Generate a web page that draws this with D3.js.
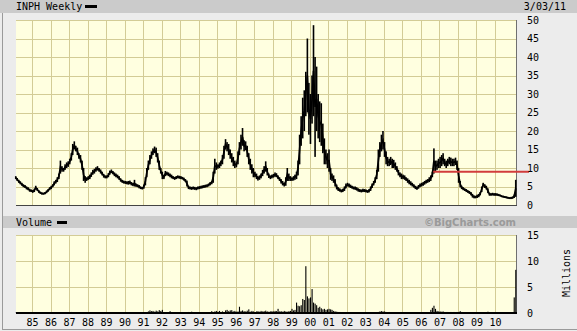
<!DOCTYPE html>
<html><head><meta charset="utf-8">
<script src="https://cdn.jsdelivr.net/npm/d3@7"></script>
<style>
html,body{margin:0;padding:0;background:#ececec;}
svg{display:block;}
text{font-family:"DejaVu Sans Mono",monospace;font-size:10px;fill:#000;}
</style></head>
<body>
<svg id="c" width="577" height="331"></svg>
<script>
// ---- DATA (monthly, starting Feb 1984, ending Feb 2011) ----
const symbol = "INPH Weekly";
const dateLabel = "3/03/11";
const priceHigh = [
 7.8,7.3,6.8,6.4,6.0,5.6,5.4,5.0,4.8,4.4,4.2,                 // 1984
 4.0,4.4,5.2,4.6,4.0,3.6,3.4,3.3,3.5,3.9,4.3,4.8,            // 1985
 5.2,5.6,6.4,6.8,7.5,8.5,12.0,10.5,10.0,11.0,11.5,11.8,      // 1986
 12.5,14.0,16.5,17.2,16.0,15.5,14.0,13.5,12.0,10.0,7.8,7.5,  // 1987
 7.8,8.2,8.8,9.5,9.8,10.2,10.5,10.0,9.6,9.0,8.4,8.0,         // 1988
 8.0,8.6,9.3,9.6,9.2,8.8,8.5,8.2,7.8,7.2,6.8,6.6,            // 1989
 6.5,6.4,6.5,6.6,6.2,6.0,6.8,5.8,5.6,5.4,5.0,4.8,            // 1990
 5.5,7.5,10.0,12.0,13.5,14.5,15.3,15.8,15.5,14.0,12.0,10.0,  // 1991
 9.0,8.2,9.2,9.0,8.8,8.5,8.2,7.8,7.6,7.8,8.0,7.9,            // 1992
 7.8,7.6,7.4,7.0,6.6,5.2,5.0,4.9,5.0,4.9,4.8,5.0,            // 1993
 5.1,5.2,5.3,5.4,5.5,5.6,5.8,6.2,6.5,9.0,12.5,11.5,          // 1994
 11.0,11.5,12.0,13.5,16.0,17.8,17.0,16.5,15.0,14.0,13.0,12.0,// 1995
 11.5,14.5,17.0,19.0,20.8,17.5,17.2,16.0,14.0,12.5,11.0,10.0,// 1996
 9.0,8.5,7.8,8.0,8.5,9.5,10.5,11.8,10.0,8.5,8.0,8.2,         // 1997
 8.4,8.8,8.6,8.0,7.5,7.0,6.5,6.0,7.5,10.0,8.5,7.8,           // 1998
 7.5,7.8,8.2,9.0,12.0,19.0,24.0,29.0,31.0,36.0,45.0,33.0,    // 1999
 30.0,35.0,48.6,40.0,37.4,30.0,28.0,27.5,22.0,18.0,15.0,14.0,// 2000
 15.0,10.0,8.5,8.0,7.0,5.5,4.8,4.5,4.2,4.4,5.0,5.8,          // 2001
 6.0,5.8,5.5,5.2,5.0,5.0,4.8,4.5,4.3,4.2,4.4,4.3,            // 2002
 4.2,4.0,4.3,5.0,5.8,6.5,7.5,9.5,15.0,17.0,19.0,20.0,        // 2003
 17.0,14.5,13.0,12.5,13.0,12.5,12.2,11.5,10.5,9.5,8.8,8.5,   // 2004
 8.2,8.0,7.5,7.2,6.8,6.4,6.0,5.6,5.2,5.0,5.4,5.8,            // 2005
 6.0,6.2,6.5,6.8,7.0,7.5,8.0,9.0,15.3,12.0,12.0,12.5,        // 2006
 13.0,13.5,14.0,12.5,12.0,12.5,13.0,12.8,12.5,12.5,12.8,12.0,// 2007
 10.0,6.5,5.2,4.8,4.5,4.3,4.0,3.8,3.5,3.0,2.6,2.5,           // 2008
 2.8,3.0,3.5,5.0,6.0,5.6,5.2,4.5,3.3,3.2,3.3,3.2,            // 2009
 3.2,3.1,3.0,2.8,2.6,2.5,2.4,2.3,2.2,2.1,2.2,2.3,            // 2010
 2.8,6.8                                                       // 2011
];
const priceLow = [
 7.0,6.5,6.0,5.6,5.2,4.8,4.6,4.2,4.0,3.6,3.5,
 3.3,3.5,4.2,3.8,3.3,3.0,2.8,2.8,2.9,3.2,3.6,4.0,
 4.3,4.8,5.3,5.8,6.2,7.0,8.5,9.0,9.0,9.5,10.0,10.3,
 11.0,12.0,13.5,15.0,14.5,13.5,12.5,11.5,9.5,6.5,6.0,6.5,
 6.8,7.0,7.6,8.2,8.5,9.0,9.3,9.0,8.5,8.0,7.4,7.2,
 7.2,7.5,8.2,8.6,8.3,7.8,7.5,7.2,6.8,6.3,6.0,5.8,
 5.7,5.6,5.5,5.6,5.3,5.1,5.0,4.9,4.8,4.5,4.3,4.2,
 4.4,5.3,7.5,9.5,11.0,12.5,13.5,14.0,13.0,11.5,9.5,8.5,
 7.0,7.0,7.8,8.0,7.8,7.5,7.2,7.0,6.8,7.0,7.2,7.1,
 7.0,6.9,6.6,6.2,5.0,4.3,4.2,4.1,4.2,4.1,4.0,4.2,
 4.3,4.4,4.5,4.6,4.7,4.8,5.0,5.3,5.6,6.0,8.5,9.5,
 9.8,10.0,10.5,11.0,12.5,15.0,14.5,13.5,12.5,11.5,10.5,10.0,
 10.2,11.0,13.5,15.0,16.0,14.5,14.8,13.0,11.0,9.5,8.5,7.5,
 7.5,7.0,6.6,6.8,7.2,7.8,8.5,9.0,8.0,7.3,7.0,7.2,
 7.4,7.6,7.5,7.0,6.5,5.8,5.3,5.0,5.2,6.5,6.5,6.5,
 6.5,6.6,6.8,7.0,8.0,11.0,16.0,18.0,20.0,24.0,25.0,19.0,
 16.5,22.0,24.0,13.0,20.0,18.0,17.0,16.0,14.0,11.0,11.0,10.0,
 9.0,6.8,6.5,6.0,5.0,4.2,3.8,3.6,3.4,3.5,3.8,4.5,
 5.0,4.8,4.6,4.4,4.2,4.1,3.9,3.6,3.5,3.4,3.5,3.5,
 3.4,3.3,3.4,3.8,4.6,5.3,6.0,7.0,9.0,13.0,14.5,15.0,
 13.0,11.0,10.5,10.5,10.8,10.0,10.0,9.5,9.0,8.0,7.5,7.0,
 7.0,6.8,6.5,6.0,5.6,5.3,5.0,4.7,4.3,4.1,4.4,4.8,
 5.0,5.2,5.5,5.8,6.0,6.2,6.5,7.5,8.5,9.0,9.5,10.0,
 10.0,10.5,11.0,10.5,10.0,10.5,11.0,10.5,10.5,10.5,10.8,9.5,
 6.0,4.8,4.3,4.0,3.8,3.5,3.3,3.0,2.6,2.0,1.8,1.8,
 1.9,2.1,2.6,3.5,5.0,4.6,4.2,3.2,2.5,2.5,2.6,2.5,
 2.5,2.5,2.4,2.3,2.1,2.0,1.9,1.8,1.7,1.6,1.6,1.7,
 1.9,2.2
];
const volume = [ // millions
 0.05,0.04,0.05,0.04,0.05,0.04,0.05,0.04,0.05,0.04,0.05,
 0.04,0.05,0.04,0.05,0.04,0.05,0.04,0.05,0.04,0.05,0.04,0.05,
 0.05,0.06,0.05,0.06,0.05,0.08,0.06,0.05,0.06,0.05,0.06,0.05,
 0.06,0.2,0.08,0.06,0.05,0.06,0.05,0.06,0.05,0.07,0.05,0.06,
 0.05,0.05,0.06,0.05,0.05,0.06,0.05,0.05,0.06,0.05,0.05,0.06,
 0.05,0.05,0.06,0.05,0.05,0.06,0.05,0.05,0.06,0.05,0.05,0.06,
 0.05,0.05,0.06,0.05,0.05,0.06,0.08,0.05,0.06,0.05,0.05,0.06,
 0.05,0.06,0.1,0.3,0.5,0.35,0.4,0.25,0.45,0.3,0.55,0.4,
 0.6,0.15,0.1,0.08,0.1,0.35,0.1,0.08,0.06,0.07,0.06,0.05,
 0.05,0.06,0.05,0.05,0.1,0.2,0.05,0.25,0.06,0.05,0.06,0.05,
 0.05,0.06,0.05,0.05,0.06,0.05,0.08,0.1,0.35,0.2,0.3,0.4,
 0.25,0.4,0.2,0.3,0.15,0.5,0.6,0.35,0.5,0.55,0.3,0.4,
 0.25,0.3,1.2,0.4,0.5,0.35,0.3,0.45,0.7,0.25,0.4,0.3,
 0.2,0.3,0.35,0.25,0.4,0.3,0.35,0.45,0.3,0.25,0.3,0.35,
 0.3,0.4,0.35,0.8,0.3,0.35,0.25,0.4,0.3,0.25,0.35,0.4,
 0.8,0.5,0.6,2.0,1.4,1.3,1.5,2.7,2.5,9.0,3.2,2.8,
 3.0,4.6,2.0,1.8,1.5,1.0,1.2,0.9,0.7,0.8,0.6,0.7,
 0.8,0.7,0.6,0.4,0.3,0.25,0.2,0.2,0.15,0.15,0.12,0.15,
 0.12,0.1,0.1,0.12,0.1,0.08,0.1,0.08,0.1,0.09,0.08,0.08,
 0.08,0.07,0.08,0.08,0.08,0.1,0.1,0.15,0.2,0.3,0.35,0.3,
 0.3,0.2,0.15,0.2,0.15,0.12,0.1,0.1,0.12,0.1,0.1,0.1,
 0.1,0.08,0.08,0.1,0.08,0.08,0.07,0.08,0.08,0.07,0.08,0.08,
 0.08,0.1,0.08,0.1,0.12,0.15,0.6,1.0,1.4,0.8,0.4,0.3,
 0.3,0.25,0.3,0.2,0.2,0.2,0.15,0.2,0.15,0.2,0.15,0.2,
 0.2,0.35,0.2,0.15,0.12,0.1,0.1,0.08,0.1,0.08,0.08,0.08,
 0.07,0.08,0.1,0.12,0.15,0.1,0.08,0.25,0.1,0.08,0.07,0.08,
 0.07,0.06,0.07,0.06,0.06,0.06,0.05,0.06,0.06,0.05,0.06,0.1,
 3.0,8.3
];
const refLevel = 9;              // red reference line
const refStart = [2006, 8, 1];   // year, month index, day
const yearTicks = d3.range(1985, 2011);
const priceTicks = d3.range(0, 51, 5);
const volumeTicks = [0, 5, 10, 15];

// ---- DRAW ----
const svg = d3.select("#c");
const W = 577, H = 331;
const L = 16, R = 516;
const pT = 20, pB = 205, vT = 235, vB = 313;
const cream = "#ffffe0", grid = "#d3cc96";

const dates = priceHigh.map((_, i) => new Date(1984, 1 + i, 15));
const x = d3.scaleTime().domain([new Date(1984, 1, 20), new Date(2011, 1, 20)]).range([L, R]);
const yP = d3.scaleLinear().domain([0, 50]).range([pB, pT]);
const yV = d3.scaleLinear().domain([0, 15]).range([vB, vT]);

// background pieces
svg.append("rect").attr("width", W).attr("height", H).attr("fill", "#ececec");
svg.append("rect").attr("x", 0).attr("y", 0).attr("width", W).attr("height", 13).attr("fill", "#cbcbcb");
svg.append("rect").attr("x", 3).attr("y", 216).attr("width", W - 3).attr("height", 12).attr("fill", "#cbcbcb");
svg.append("line").attr("x1", 2.5).attr("x2", 2.5).attr("y1", 13).attr("y2", 330).attr("stroke", "#9a9a9a");
svg.append("line").attr("x1", 2).attr("x2", W).attr("y1", 329.5).attr("y2", 329.5).attr("stroke", "#9a9a9a");

function panel(top, bottom, yScale, ticks) {
  const g = svg.append("g");
  g.append("rect").attr("x", L).attr("y", top).attr("width", R - L).attr("height", bottom - top).attr("fill", cream);
  g.selectAll(".hg").data(ticks).join("line")
    .attr("x1", L).attr("x2", R)
    .attr("y1", d => Math.round(yScale(d)) + 0.5).attr("y2", d => Math.round(yScale(d)) + 0.5)
    .attr("stroke", grid);
  g.selectAll(".vg").data(yearTicks).join("line")
    .attr("x1", d => Math.round(x(new Date(d, 0, 1))) + 0.5).attr("x2", d => Math.round(x(new Date(d, 0, 1))) + 0.5)
    .attr("y1", top).attr("y2", bottom)
    .attr("stroke", grid);
  g.append("line").attr("x1", R + 0.5).attr("x2", R + 0.5).attr("y1", top).attr("y2", bottom).attr("stroke", "#707070");
  return g;
}
panel(pT, pB, yP, priceTicks);
panel(vT, vB, yV, volumeTicks);

// price bars (monthly high-low) + connecting line
const pg = svg.append("g");
pg.selectAll("rect.hl").data(dates).join("rect")
  .attr("x", (d, i) => x(d) - 0.8)
  .attr("width", 1.6)
  .attr("y", (d, i) => yP(priceHigh[i]))
  .attr("height", (d, i) => Math.max(1, yP(priceLow[i]) - yP(priceHigh[i])))
  .attr("fill", "#000");
pg.append("path")
  .datum(dates)
  .attr("fill", "none").attr("stroke", "#000").attr("stroke-width", 1.7)
  .attr("d", d3.line().x(d => x(d)).y((d, i) => yP((priceHigh[i] + priceLow[i]) / 2)));

// price axis baseline
svg.append("line").attr("x1", L).attr("x2", R + 1).attr("y1", pB + 0.5).attr("y2", pB + 0.5).attr("stroke", "#444");

// red reference line
svg.append("line")
  .attr("x1", x(new Date(...refStart))).attr("x2", R + 13)
  .attr("y1", yP(refLevel)).attr("y2", yP(refLevel))
  .attr("stroke", "#d23c3c").attr("stroke-width", 2);

// volume bars
svg.append("g").selectAll("rect").data(dates).join("rect")
  .attr("x", d => x(d) - 0.5)
  .attr("width", 1.1)
  .attr("y", (d, i) => yV(volume[i]))
  .attr("height", (d, i) => yV(0) - yV(volume[i]))
  .attr("fill", "#000");
svg.append("line").attr("x1", L).attr("x2", R + 1).attr("y1", vB).attr("y2", vB).attr("stroke", "#000").attr("stroke-width", 2);

// right axes (labels only)
const axP = svg.append("g").attr("transform", `translate(${R},0)`)
  .call(d3.axisRight(yP).tickValues(priceTicks).tickSize(0).tickPadding(11));
const axV = svg.append("g").attr("transform", `translate(${R},0)`)
  .call(d3.axisRight(yV).tickValues(volumeTicks).tickSize(0).tickPadding(11));
[axP, axV].forEach(a => { a.select(".domain").remove(); a.selectAll("text").attr("font-family", "DejaVu Sans Mono").attr("font-size", 10).attr("fill", "#000"); });

// bottom axis years
const axX = svg.append("g").attr("transform", `translate(0,${vB})`)
  .call(d3.axisBottom(x).tickValues(yearTicks.map(yv => new Date(yv, 0, 1))).tickSize(0).tickPadding(6)
    .tickFormat(d => d3.timeFormat("%y")(d)));
axX.select(".domain").remove();
axX.selectAll("text").attr("font-family", "DejaVu Sans Mono").attr("font-size", 10).attr("fill", "#000");

// titles
svg.append("text").attr("x", L).attr("y", 10).text(symbol);
svg.append("rect").attr("x", 85).attr("y", 5).attr("width", 12).attr("height", 3).attr("fill", "#000");
svg.append("text").attr("x", 566).attr("y", 10).attr("text-anchor", "end").text(dateLabel);
svg.append("text").attr("x", L).attr("y", 226).text("Volume");
svg.append("rect").attr("x", 57).attr("y", 221).attr("width", 10).attr("height", 3).attr("fill", "#000");
svg.append("text").attr("x", R).attr("y", 226).attr("text-anchor", "end")
  .style("font-family", "DejaVu Sans").style("font-weight", "bold").style("font-size", "10px").style("fill", "#9a9a9a")
  .text("\u00A9BigCharts.com");
svg.append("text").attr("transform", "translate(570,273) rotate(-90)").attr("text-anchor", "middle").text("Millions");
</script>
</body></html>
